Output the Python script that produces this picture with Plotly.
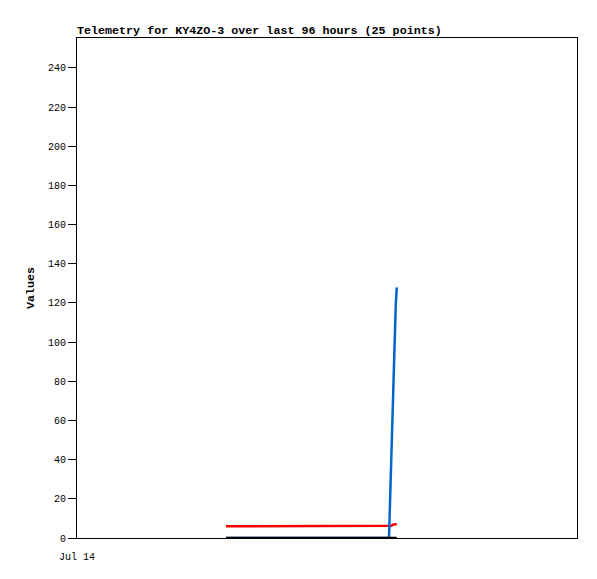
import plotly.graph_objects as go

# Timestamps and series values
times = ["2024-07-15 04:36", "2024-07-16 11:54", "2024-07-16 12:00", "2024-07-16 12:12",
         "2024-07-16 12:24", "2024-07-16 12:36", "2024-07-16 12:48", "2024-07-16 13:00",
         "2024-07-16 13:12", "2024-07-16 13:24"]
series_blue = [0, 0, 9, 28, 46, 64, 82, 101, 119, 128]
series_red = [6, 6, 6, 6, 6.3, 6.8, 7, 7, 7, 7]
series_black = [0, 0, 0, 0, 0, 0, 0, 0, 0, 0]

x_range = ["2024-07-14 00:00", "2024-07-18 00:00"]
x_tickvals = ["2024-07-14 00:00"]
x_ticktext = ["Jul 14"]
y_tickvals = [0, 20, 40, 60, 80, 100, 120, 140, 160, 180, 200, 220, 240]

font_family = "Liberation Mono, DejaVu Sans Mono, monospace"

fig = go.Figure()
fig.add_trace(go.Scatter(x=times, y=series_red, mode="lines",
                         line=dict(color="#ff0000", width=2.5), showlegend=False))
fig.add_trace(go.Scatter(x=times, y=series_blue, mode="lines",
                         line=dict(color="#0066cc", width=2.5), showlegend=False))
fig.add_trace(go.Scatter(x=times, y=series_black, mode="lines",
                         line=dict(color="#000000", width=2.5), showlegend=False))

W, H = 589, 571
fig.update_layout(
    width=W, height=H,
    margin=dict(l=69, r=20, t=30, b=41),
    paper_bgcolor="white", plot_bgcolor="white",
    font=dict(family=font_family, size=10, color="black"),
    title=dict(text="<b>Telemetry for KY4ZO-3 over last 96 hours (25 points)</b>",
               x=69/W, xanchor="left", y=1 - 22/H, yanchor="middle",
               font=dict(family=font_family, size=11.7, color="black")),
    xaxis=dict(type="date", range=x_range, tickvals=x_tickvals, ticktext=x_ticktext,
               showgrid=False, zeroline=False, showline=True, linecolor="black",
               linewidth=1, mirror=True, ticks="outside", ticklen=9,
               tickcolor="rgba(0,0,0,0)", tickfont=dict(size=10)),
    yaxis=dict(range=[0, 255.3], tickvals=y_tickvals, showgrid=False, zeroline=False,
               showline=True, linecolor="black", linewidth=1, mirror=True,
               ticks="outside", ticklen=8, tickcolor="black", tickwidth=1,
               tickfont=dict(size=10),
               title=dict(text="<b>Values</b>", standoff=10,
                          font=dict(family=font_family, size=11.7))),
)

fig.write_html("out.html")
